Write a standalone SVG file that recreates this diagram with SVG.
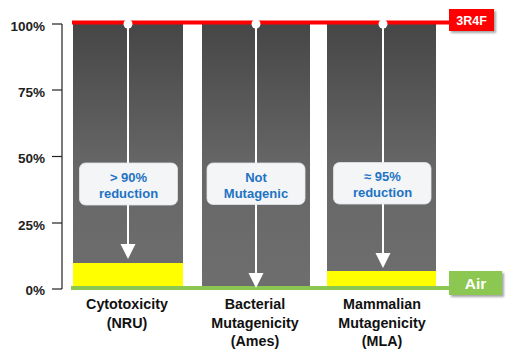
<svg xmlns="http://www.w3.org/2000/svg" width="513" height="351" viewBox="0 0 513 351">
<defs>
<linearGradient id="barg" x1="0" y1="0" x2="0" y2="1">
<stop offset="0" stop-color="#464646"/>
<stop offset="0.55" stop-color="#676767"/>
<stop offset="1" stop-color="#6e6e6e"/>
</linearGradient>
<filter id="sh" x="-20%" y="-20%" width="150%" height="160%">
<feDropShadow dx="2" dy="2" stdDeviation="1.2" flood-color="#000" flood-opacity="0.35"/>
</filter>
</defs>
<style>
.ax{font-family:"Liberation Sans",Arial,sans-serif;font-size:13.5px;font-weight:bold;fill:#222;text-anchor:end}
.cat{font-family:"Liberation Sans",Arial,sans-serif;font-size:14.3px;font-weight:bold;fill:#111;text-anchor:middle}
.box{fill:#f3f5f7;stroke:#e2e6ea;stroke-width:0.8}
.bt{font-family:"Liberation Sans",Arial,sans-serif;font-size:13px;font-weight:bold;fill:#1e73c3;text-anchor:middle}
.arr{stroke:#fff;stroke-width:2;fill:none}
.lbl{font-family:"Liberation Sans",Arial,sans-serif;font-weight:bold;fill:#fff;text-anchor:middle}
</style>
<rect width="513" height="351" fill="#fff"/>
<g id="axis" stroke="#222" stroke-width="1.2">
<line x1="62" y1="24" x2="62" y2="289"/>
<line x1="52" y1="24" x2="62" y2="24"/>
<line x1="52" y1="90" x2="62" y2="90"/>
<line x1="52" y1="156.5" x2="62" y2="156.5"/>
<line x1="52" y1="223" x2="62" y2="223"/>
<line x1="52" y1="289" x2="62" y2="289"/>
</g>
<g id="axis-labels">
<text class="ax" x="45" y="30.5">100%</text>
<text class="ax" x="45" y="96.5">75%</text>
<text class="ax" x="45" y="163">50%</text>
<text class="ax" x="45" y="229.5">25%</text>
<text class="ax" x="45" y="295">0%</text>
</g>
<g id="bar1">
<rect x="73" y="23" width="110" height="265" fill="url(#barg)"/>
<rect x="73" y="263" width="110" height="25" fill="#ffff00"/>
</g>
<g id="bar2">
<rect x="202" y="23" width="108" height="265" fill="url(#barg)"/>
</g>
<g id="bar3">
<rect x="327" y="23" width="109" height="265" fill="url(#barg)"/>
<rect x="327" y="271" width="109" height="17" fill="#ffff00"/>
</g>
<g id="ref-line">
<line x1="72" y1="22.5" x2="450" y2="22.5" stroke="#ff0000" stroke-width="4"/>
</g>
<g id="air-line">
<line x1="71" y1="288" x2="450" y2="288" stroke="#8cc751" stroke-width="4"/>
</g>
<g id="connectors">
<line class="arr" x1="128" y1="24" x2="128" y2="245"/>
<path d="M120.5,244 L135.5,244 L128,259 Z" fill="#fff"/>
<circle cx="128" cy="24" r="4.5" fill="#fff"/>
<line class="arr" x1="256" y1="24" x2="256" y2="274"/>
<path d="M248.5,273 L263.5,273 L256,288 Z" fill="#fff"/>
<circle cx="256" cy="24" r="4.5" fill="#fff"/>
<line class="arr" x1="383" y1="24" x2="383" y2="254"/>
<path d="M375.5,253 L390.5,253 L383,268 Z" fill="#fff"/>
<circle cx="383" cy="24" r="4.5" fill="#fff"/>
</g>
<g id="note1">
<rect class="box" x="79.5" y="163" width="98" height="42" rx="6"/>
<text class="bt" x="128.5" y="181.5">&gt; 90%</text>
<text class="bt" x="128.5" y="197.5">reduction</text>
</g>
<g id="note2">
<rect class="box" x="207" y="163" width="98" height="41.5" rx="6"/>
<text class="bt" x="256" y="181.5">Not</text>
<text class="bt" x="256" y="197.5">Mutagenic</text>
</g>
<g id="note3">
<rect class="box" x="333.5" y="162.5" width="97.5" height="41.5" rx="6"/>
<text class="bt" x="382.5" y="180.5">≈ 95%</text>
<text class="bt" x="382.5" y="196.5">reduction</text>
</g>
<g id="label-3r4f">
<rect x="449" y="9" width="45" height="22" fill="#ff0000" filter="url(#sh)"/>
<text class="lbl" x="471.5" y="25" font-size="12.5">3R4F</text>
</g>
<g id="label-air">
<rect x="449" y="271" width="53" height="24" fill="#8cc751" filter="url(#sh)"/>
<text class="lbl" x="475.5" y="288.5" font-size="15.5">Air</text>
</g>
<g id="categories">
<text class="cat" x="127" y="309">Cytotoxicity</text>
<text class="cat" x="127" y="327.5">(NRU)</text>
<text class="cat" x="255" y="309">Bacterial</text>
<text class="cat" x="255" y="327.5">Mutagenicity</text>
<text class="cat" x="255" y="346">(Ames)</text>
<text class="cat" x="382" y="309">Mammalian</text>
<text class="cat" x="382" y="327.5">Mutagenicity</text>
<text class="cat" x="382" y="346">(MLA)</text>
</g>
</svg>
